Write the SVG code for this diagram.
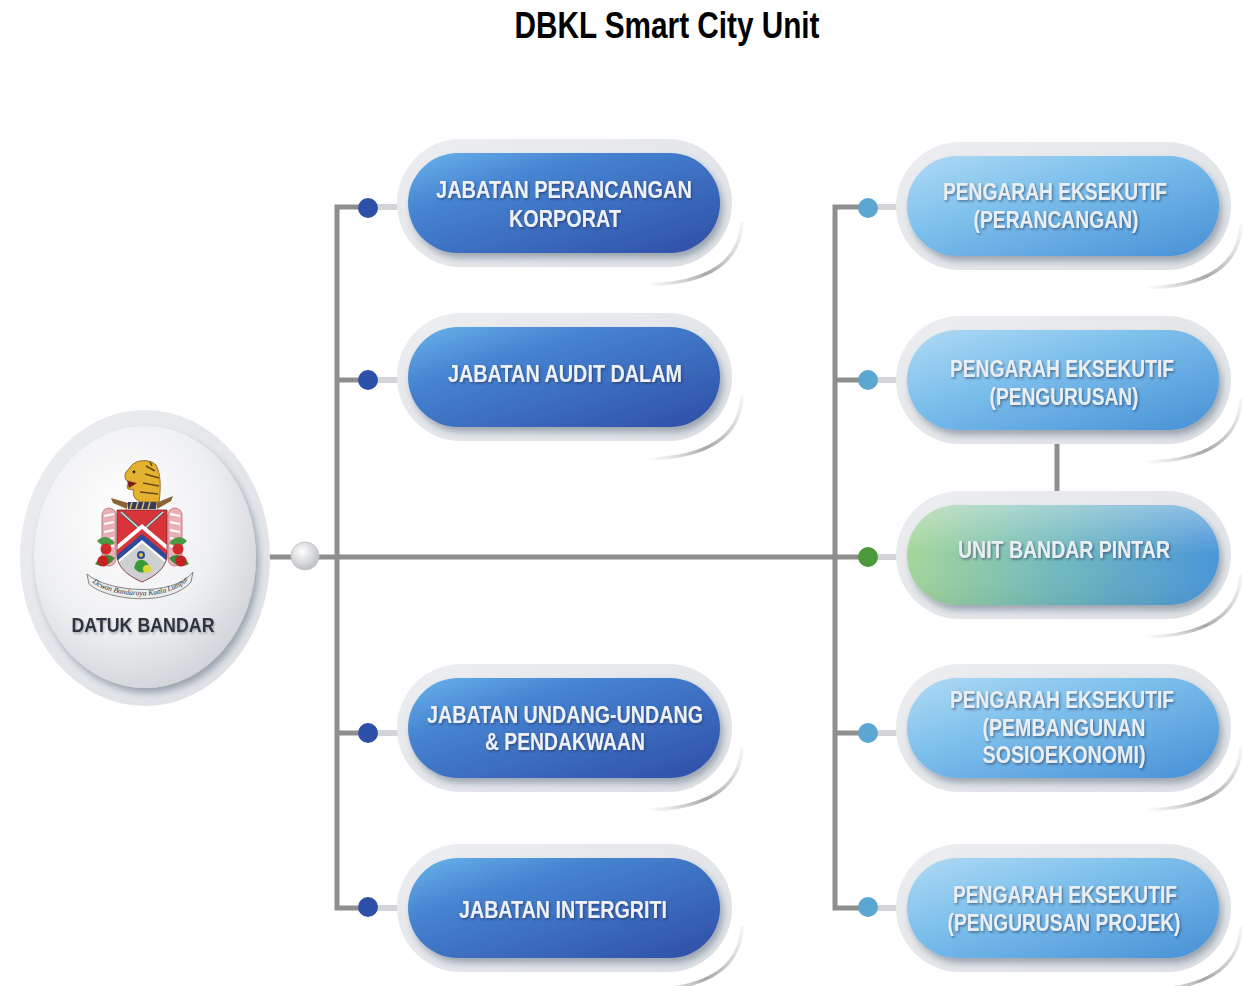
<svg xmlns="http://www.w3.org/2000/svg" xmlns:xlink="http://www.w3.org/1999/xlink" width="1246" height="986" viewBox="0 0 1246 986">
<defs>
  <style>
    .lbl{font-family:"Liberation Sans",Arial,sans-serif;font-weight:bold;font-size:24px;text-anchor:middle;fill:#eef1f6;filter:url(#ts);}
    .lblL{fill:#e9eef2;}
    .title{font-family:"Liberation Sans",Arial,sans-serif;font-weight:bold;font-size:36px;text-anchor:middle;fill:#000;}
    .line{stroke:#8e8e8e;stroke-width:5;fill:none;}
    .stubL{stroke:#d3d5d8;stroke-width:6;fill:none;}
    .swoosh{fill:none;stroke:url(#swg);stroke-width:3.5;stroke-linecap:round;}
    .dotD{fill:#2f50a8;}
    .dotL{fill:#5ca6d2;}
  </style>
  <linearGradient id="gDark" x1="0" y1="0" x2="1" y2="1">
    <stop offset="0" stop-color="#6ab4ea"/>
    <stop offset="0.3" stop-color="#4684d2"/>
    <stop offset="1" stop-color="#2e4ea6"/>
  </linearGradient>
  <linearGradient id="gLight" x1="0" y1="0" x2="1" y2="1">
    <stop offset="0" stop-color="#b0daf4"/>
    <stop offset="0.4" stop-color="#7dc0ec"/>
    <stop offset="1" stop-color="#4790d6"/>
  </linearGradient>
  <linearGradient id="gGreen" x1="0" y1="0" x2="1" y2="0">
    <stop offset="0" stop-color="#a4d69a"/>
    <stop offset="0.45" stop-color="#74bcbc"/>
    <stop offset="1" stop-color="#4a96da"/>
  </linearGradient>
  <linearGradient id="gGreenTop" x1="0" y1="0" x2="0" y2="1">
    <stop offset="0" stop-color="#ffffff" stop-opacity="0.35"/>
    <stop offset="0.5" stop-color="#ffffff" stop-opacity="0"/>
    <stop offset="1" stop-color="#000000" stop-opacity="0.05"/>
  </linearGradient>
  <linearGradient id="gHalo" x1="0" y1="0" x2="1" y2="1">
    <stop offset="0" stop-color="#eceef1"/>
    <stop offset="1" stop-color="#dcdfe3"/>
  </linearGradient>
  <linearGradient id="swg" x1="0" y1="1" x2="1" y2="0">
    <stop offset="0" stop-color="#bbbbbb" stop-opacity="0"/>
    <stop offset="0.4" stop-color="#a6a6a6"/>
    <stop offset="1" stop-color="#cfcfcf" stop-opacity="0.2"/>
  </linearGradient>
  <radialGradient id="gCircle" cx="0.4" cy="0.35" r="0.7">
    <stop offset="0" stop-color="#ffffff"/>
    <stop offset="0.6" stop-color="#eff0f2"/>
    <stop offset="1" stop-color="#cfd2d7"/>
  </radialGradient>
  <radialGradient id="gKnob" cx="0.4" cy="0.35" r="0.7">
    <stop offset="0" stop-color="#ffffff"/>
    <stop offset="1" stop-color="#b9bcc1"/>
  </radialGradient>
  <filter id="sh" x="-20%" y="-20%" width="140%" height="150%">
    <feDropShadow dx="3" dy="5" stdDeviation="3" flood-color="#203050" flood-opacity="0.35"/>
  </filter>
  <filter id="ts" x="-10%" y="-30%" width="120%" height="160%">
    <feDropShadow dx="1.2" dy="1.5" stdDeviation="0.9" flood-color="#1c2a48" flood-opacity="0.55"/>
  </filter>
  <filter id="ts2" x="-10%" y="-30%" width="120%" height="160%">
    <feDropShadow dx="1" dy="2" stdDeviation="1.2" flood-color="#30343a" flood-opacity="0.3"/>
  </filter>
  <clipPath id="shieldClip">
    <path d="M117 510 L167 510 L167 554 C167 568 155 576 142 582 C129 576 117 568 117 554 Z"/>
  </clipPath>
  <rect id="haloShape" x="-167" y="-64" width="335" height="128" rx="64"/>
  <rect id="pillShape" x="-156" y="-50" width="312" height="100" rx="50"/>
  <path id="swooshShape" d="M178 20 Q174 80 82 82"/>
</defs>

<rect width="1246" height="986" fill="#ffffff"/>

<text class="title" x="667" y="38" textLength="305" lengthAdjust="spacingAndGlyphs">DBKL Smart City Unit</text>

<!-- connectors -->
<g id="connectors">
  <path class="line" d="M268 557 L835 557"/>
  <path class="line" d="M368 207 L337 207 L337 908 L368 908"/>
  <path class="line" d="M337 380 L368 380"/>
  <path class="line" d="M337 733 L368 733"/>
  <path class="line" d="M868 207 L835 207 L835 908 L868 908"/>
  <path class="line" d="M835 380 L868 380"/>
  <path class="line" d="M835 557 L868 557"/>
  <path class="line" d="M835 733 L868 733"/>
  <path class="line" d="M1057 444 L1057 492"/>
  <path class="stubL" d="M376 207 L400 207 M376 380 L400 380 M376 733 L400 733 M376 908 L400 908"/>
  <path class="stubL" d="M876 207 L900 207 M876 380 L900 380 M876 557 L900 557 M876 733 L900 733 M876 908 L900 908"/>
  <circle class="dotD" cx="368" cy="208" r="10"/>
  <circle class="dotD" cx="368" cy="380" r="10"/>
  <circle class="dotD" cx="368" cy="733" r="10"/>
  <circle class="dotD" cx="368" cy="907" r="10"/>
  <circle class="dotL" cx="868" cy="208" r="10"/>
  <circle class="dotL" cx="868" cy="380" r="10"/>
  <circle cx="868" cy="557" r="10" fill="#4c9a3c"/>
  <circle class="dotL" cx="868" cy="733" r="10"/>
  <circle class="dotL" cx="868" cy="907" r="10"/>
  <circle cx="305" cy="556" r="14" fill="url(#gKnob)" stroke="#c4c7cc" stroke-width="1"/>
</g>

<!-- Datuk Bandar -->
<g id="datuk-bandar">
  <ellipse cx="145" cy="558" rx="125" ry="148" fill="url(#gHalo)"/>
  <ellipse cx="145" cy="557" rx="111" ry="131" fill="url(#gCircle)" filter="url(#sh)"/>
  <g id="crest">
    <!-- supporters banners -->
    <rect x="102" y="508" width="14" height="58" rx="7" fill="#eab0b6" stroke="#b07078" stroke-width="0.8"/>
    <path d="M104 516 L114 514 M104 524 L114 522 M104 532 L114 530 M104 540 L114 538 M104 548 L114 546" stroke="#ffffff" stroke-width="2"/>
    <rect x="168" y="508" width="14" height="58" rx="7" fill="#eab0b6" stroke="#b07078" stroke-width="0.8"/>
    <path d="M170 514 L180 516 M170 522 L180 524 M170 530 L180 532 M170 538 L180 540 M170 546 L180 548" stroke="#ffffff" stroke-width="2"/>
    <!-- leaves and roses -->
    <path d="M95 564 Q104 550 115 558 Q106 570 95 564 Z" fill="#3d8a3a"/>
    <path d="M189 564 Q180 550 169 558 Q178 570 189 564 Z" fill="#3d8a3a"/>
    <path d="M97 541 Q106 532 115 543 Q104 549 97 541 Z" fill="#4a9a44"/>
    <path d="M187 541 Q178 532 169 543 Q180 549 187 541 Z" fill="#4a9a44"/>
    <circle cx="106" cy="549" r="5.5" fill="#d02a2a"/>
    <circle cx="103" cy="561" r="5.5" fill="#c42222"/>
    <circle cx="178" cy="549" r="5.5" fill="#d02a2a"/>
    <circle cx="181" cy="561" r="5.5" fill="#c42222"/>
    <!-- horns -->
    <path d="M111 498 L128 503 L127 509 L113 503 Z" fill="#8a6432"/>
    <path d="M173 496 L156 503 L157 509 L171 501 Z" fill="#8a6432"/>
    <!-- tiger head -->
    <path d="M131 466 C137 459 150 459 156 465 C161 474 161 488 159 502 L140 502 C134 499 132 494 134 490 L128 489 C126 486 128 483 131 482 L126 480 C124 476 125 472 128 470 Z" fill="#e4b22e" stroke="#7a5a1a" stroke-width="0.8"/>
    <path d="M127 481 L137 483 L129 488 Z" fill="#7a1a1a"/>
    <path d="M146 466 L155 471 M145 474 L159 478 M143 483 L159 486 M140 492 L158 494 M150 462 L152 466" stroke="#6a4a14" stroke-width="1.6" fill="none"/>
    <circle cx="134" cy="472" r="1.4" fill="#222"/>
    <!-- torse -->
    <rect x="128" y="502" width="28" height="7" fill="#3a3a5a"/>
    <path d="M132 502 L130 509 M138 502 L136 509 M144 502 L142 509 M150 502 L148 509" stroke="#d8c070" stroke-width="1.5"/>
    <!-- shield -->
    <g clip-path="url(#shieldClip)">
      <rect x="110" y="505" width="64" height="80" fill="#d8343a"/>
      <path d="M121 512 L163 550 M163 512 L121 550" stroke="#5a5a5a" stroke-width="3.2"/>
      <path d="M121 512 L163 550 M163 512 L121 550" stroke="#dcdcdc" stroke-width="1.6"/>
      <polygon points="110,551 142,524 174,551 174,600 110,600" fill="#ffffff"/>
      <polygon points="110,556 142,529 174,556 174,600 110,600" fill="#d8343a"/>
      <polygon points="110,561 142,534 174,561 174,600 110,600" fill="#2c4a9e"/>
      <polygon points="110,567 142,540 174,567 174,600 110,600" fill="#ffffff"/>
      <polygon points="110,570 142,543 174,570 174,600 110,600" fill="#cfd0d2"/>
      <circle cx="141" cy="555" r="4" fill="#2c4a9e"/>
      <circle cx="141" cy="555" r="2" fill="#e4c83a"/>
      <path d="M134 568 Q136 558 143 560 Q150 562 148 570 Q141 576 134 568 Z" fill="#3a9a3a"/>
      <circle cx="147" cy="569" r="4" fill="#d8d83a"/>
    </g>
    <path d="M117 510 L167 510 L167 554 C167 568 155 576 142 582 C129 576 117 568 117 554 Z" fill="none" stroke="#7a2a2a" stroke-width="0.8"/>
    <!-- scroll -->
    <path d="M87 574 C107 592 173 598 193 572 L191 582 C171 606 109 602 89 584 Z" fill="#ececec" stroke="#6a6a6a" stroke-width="0.8"/>
    <path id="scrollPath" d="M93 583 C113 598 167 602 188 580" fill="none"/>
    <text font-family="Liberation Serif,serif" font-style="italic" font-size="7.5" fill="#333"><textPath xlink:href="#scrollPath" startOffset="50%" text-anchor="middle">Dewan Bandaraya Kuala Lumpur</textPath></text>
  </g>
  <text x="143" y="632" font-family="Liberation Sans,Arial,sans-serif" font-weight="bold" font-size="21" text-anchor="middle" fill="#2e3540" textLength="143" lengthAdjust="spacingAndGlyphs" filter="url(#ts2)">DATUK BANDAR</text>
</g>

<!-- left nodes -->
<g id="jabatan-perancangan-korporat" transform="translate(564,203)">
  <use href="#haloShape" fill="url(#gHalo)"/>
  <use href="#swooshShape" class="swoosh"/>
  <use href="#pillShape" fill="url(#gDark)" filter="url(#sh)"/>
  <text class="lbl" x="0" y="-5" textLength="256" lengthAdjust="spacingAndGlyphs">JABATAN PERANCANGAN</text>
  <text class="lbl" x="1" y="24" textLength="112" lengthAdjust="spacingAndGlyphs">KORPORAT</text>
</g>
<g id="jabatan-audit-dalam" transform="translate(564,377)">
  <use href="#haloShape" fill="url(#gHalo)"/>
  <use href="#swooshShape" class="swoosh"/>
  <use href="#pillShape" fill="url(#gDark)" filter="url(#sh)"/>
  <text class="lbl" x="1" y="4.5" textLength="234" lengthAdjust="spacingAndGlyphs">JABATAN AUDIT DALAM</text>
</g>
<g id="jabatan-undang-undang" transform="translate(564,728)">
  <use href="#haloShape" fill="url(#gHalo)"/>
  <use href="#swooshShape" class="swoosh"/>
  <use href="#pillShape" fill="url(#gDark)" filter="url(#sh)"/>
  <text class="lbl" x="1" y="-5" textLength="276" lengthAdjust="spacingAndGlyphs">JABATAN UNDANG-UNDANG</text>
  <text class="lbl" x="1" y="22" textLength="160" lengthAdjust="spacingAndGlyphs">&amp; PENDAKWAAN</text>
</g>
<g id="jabatan-intergriti" transform="translate(564,908)">
  <use href="#haloShape" fill="url(#gHalo)"/>
  <use href="#swooshShape" class="swoosh"/>
  <use href="#pillShape" fill="url(#gDark)" filter="url(#sh)"/>
  <text class="lbl" x="-1" y="10" textLength="208" lengthAdjust="spacingAndGlyphs">JABATAN INTERGRITI</text>
</g>

<!-- right nodes -->
<g id="pe-perancangan" transform="translate(1063,206)">
  <use href="#haloShape" fill="url(#gHalo)"/>
  <use href="#swooshShape" class="swoosh"/>
  <use href="#pillShape" fill="url(#gLight)" filter="url(#sh)"/>
  <text class="lbl lblL" x="-8" y="-6" textLength="224" lengthAdjust="spacingAndGlyphs">PENGARAH EKSEKUTIF</text>
  <text class="lbl lblL" x="-7" y="22" textLength="165" lengthAdjust="spacingAndGlyphs">(PERANCANGAN)</text>
</g>
<g id="pe-pengurusan" transform="translate(1063,380)">
  <use href="#haloShape" fill="url(#gHalo)"/>
  <use href="#swooshShape" class="swoosh"/>
  <use href="#pillShape" fill="url(#gLight)" filter="url(#sh)"/>
  <text class="lbl lblL" x="-1" y="-3" textLength="224" lengthAdjust="spacingAndGlyphs">PENGARAH EKSEKUTIF</text>
  <text class="lbl lblL" x="1" y="25" textLength="149" lengthAdjust="spacingAndGlyphs">(PENGURUSAN)</text>
</g>
<g id="unit-bandar-pintar" transform="translate(1063,555)">
  <use href="#haloShape" fill="url(#gHalo)"/>
  <use href="#swooshShape" class="swoosh"/>
  <use href="#pillShape" fill="url(#gGreen)" filter="url(#sh)"/>
  <use href="#pillShape" fill="url(#gGreenTop)"/>
  <text class="lbl lblL" x="1" y="3" textLength="212" lengthAdjust="spacingAndGlyphs">UNIT BANDAR PINTAR</text>
</g>
<g id="pe-pembangunan-sosioekonomi" transform="translate(1063,728)">
  <use href="#haloShape" fill="url(#gHalo)"/>
  <use href="#swooshShape" class="swoosh"/>
  <use href="#pillShape" fill="url(#gLight)" filter="url(#sh)"/>
  <text class="lbl lblL" x="-1" y="-20" textLength="224" lengthAdjust="spacingAndGlyphs">PENGARAH EKSEKUTIF</text>
  <text class="lbl lblL" x="1" y="8" textLength="163" lengthAdjust="spacingAndGlyphs">(PEMBANGUNAN</text>
  <text class="lbl lblL" x="1" y="35" textLength="163" lengthAdjust="spacingAndGlyphs">SOSIOEKONOMI)</text>
</g>
<g id="pe-pengurusan-projek" transform="translate(1063,908)">
  <use href="#haloShape" fill="url(#gHalo)"/>
  <use href="#swooshShape" class="swoosh"/>
  <use href="#pillShape" fill="url(#gLight)" filter="url(#sh)"/>
  <text class="lbl lblL" x="2" y="-5" textLength="224" lengthAdjust="spacingAndGlyphs">PENGARAH EKSEKUTIF</text>
  <text class="lbl lblL" x="1" y="23" textLength="233" lengthAdjust="spacingAndGlyphs">(PENGURUSAN PROJEK)</text>
</g>
</svg>
